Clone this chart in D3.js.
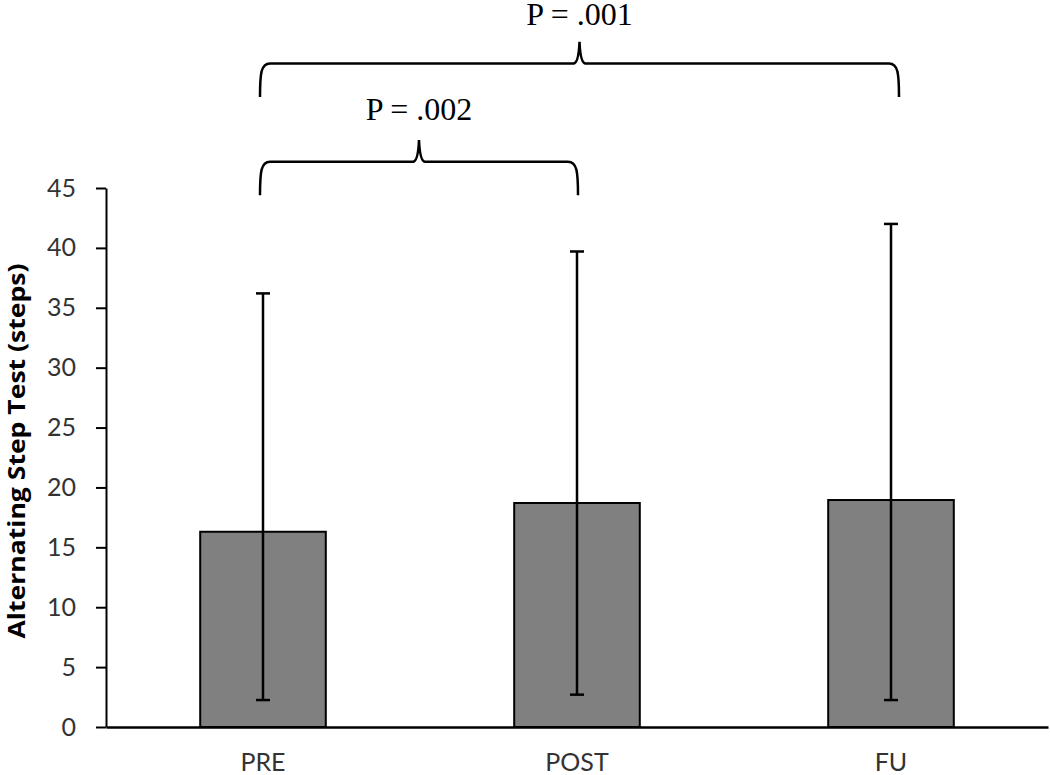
<!DOCTYPE html>
<html>
<head>
<meta charset="utf-8">
<script src="https://cdn.jsdelivr.net/npm/d3@7"></script>
<style>
  html, body { margin: 0; padding: 0; background: #fff; }
  svg { display: block; }
</style>
</head>
<body>
<svg id="chart"></svg>
<script>
// 交互踏み台テスト 棒グラフ（平均 ± 誤差）

const categories = ["PRE", "POST", "FU"];
const means = [16.3, 18.7, 18.95];
const errLow = [2.25, 2.7, 2.25];
const errHigh = [36.2, 39.7, 42.0];
const yTicks = [0, 5, 10, 15, 20, 25, 30, 35, 40, 45];

// 有意差ブラケット: [from, to, 下端, 水平線, 頂点, ラベル位置]
const bracketFrom = ["PRE", "PRE"];
const bracketTo = ["POST", "FU"];
const bracketLabels = ["P = .002", "P = .001"];
const bracketBottom = [44.4, 52.6];
const bracketLine = [47.2, 55.4];
const bracketPeak = [49.0, 57.2];
const bracketText = [50.7, 58.65];

const width = 1050;
const height = 775;

const svg = d3.select("#chart")
    .attr("width", width)
    .attr("height", height);

const x = d3.scaleBand()
    .domain(categories)
    .range([106, 1048])
    .paddingInner(0.6)
    .paddingOuter(0.3);

const y = d3.scaleLinear()
    .domain([0, 45])
    .range([727, 188]);

const cx = d => x(d) + x.bandwidth() / 2;

// 棒
svg.append("g")
    .selectAll("rect")
    .data(categories)
    .enter()
    .append("rect")
    .attr("x", d => x(d))
    .attr("y", (d, i) => y(means[i]))
    .attr("width", x.bandwidth())
    .attr("height", (d, i) => y(0) - y(means[i]))
    .attr("fill", "#808080")
    .attr("stroke", "#000")
    .attr("stroke-width", 2);

// 誤差棒
const err = svg.append("g")
    .attr("stroke", "#000")
    .attr("stroke-width", 2.5);

categories.forEach((c, i) => {
    err.append("line")
        .attr("x1", cx(c)).attr("x2", cx(c))
        .attr("y1", y(errLow[i])).attr("y2", y(errHigh[i]));
    [errLow[i], errHigh[i]].forEach(v => {
        err.append("line")
            .attr("x1", cx(c) - 7).attr("x2", cx(c) + 7)
            .attr("y1", y(v)).attr("y2", y(v));
    });
});

// Y軸
const yAxis = svg.append("g")
    .attr("transform", "translate(106,0)")
    .call(d3.axisLeft(y).tickValues(yTicks).tickSize(10).tickPadding(20).tickSizeOuter(0));
yAxis.select(".domain").attr("stroke", "#000").attr("stroke-width", 2);
yAxis.selectAll(".tick line").attr("stroke", "#000").attr("stroke-width", 2);
yAxis.selectAll(".tick text")
    .attr("fill", "#333")
    .style("font-family", "Lato, 'Open Sans', sans-serif")
    .style("font-size", "25px");

// X軸
const xAxis = svg.append("g")
    .attr("transform", "translate(0,727)")
    .call(d3.axisBottom(x).tickSize(0).tickPadding(0));
xAxis.select(".domain").attr("stroke", "#000").attr("stroke-width", 2.5);
xAxis.selectAll(".tick text")
    .attr("y", 44)
    .attr("dy", null)
    .attr("fill", "#333")
    .style("font-family", "Lato, 'Open Sans', sans-serif")
    .style("font-size", "25px");

// Y軸タイトル
svg.append("text")
    .attr("transform", "translate(25,451) rotate(-90)")
    .attr("text-anchor", "middle")
    .attr("textLength", 375)
    .attr("lengthAdjust", "spacingAndGlyphs")
    .style("font-family", "'Open Sans', Lato, sans-serif")
    .style("font-weight", "bold")
    .style("font-size", "24px")
    .attr("fill", "#000")
    .text("Alternating Step Test (steps)");

// ブラケット
bracketLabels.forEach((label, i) => {
    const x1 = cx(bracketFrom[i]) - 3;
    const x2 = cx(bracketTo[i]) + (bracketTo[i] === "FU" ? 8 : 1);
    const mid = (x1 + x2) / 2;
    const yb = y(bracketBottom[i]);
    const yl = y(bracketLine[i]);
    const yp = y(bracketPeak[i]);
    const p = d3.path();
    p.moveTo(x1, yb);
    p.bezierCurveTo(x1, yl + 10, x1 + 1, yl, x1 + 10, yl);
    p.lineTo(mid - 6, yl);
    p.quadraticCurveTo(mid - 1, yl, mid, yp);
    p.quadraticCurveTo(mid + 1, yl, mid + 6, yl);
    p.lineTo(x2 - 10, yl);
    p.bezierCurveTo(x2 - 1, yl, x2, yl + 10, x2, yb);
    svg.append("path")
        .attr("d", p.toString())
        .attr("fill", "none")
        .attr("stroke", "#000")
        .attr("stroke-width", 2.5);
    svg.append("text")
        .attr("x", mid)
        .attr("y", y(bracketText[i]))
        .attr("text-anchor", "middle")
        .style("font-family", "'Liberation Serif', 'Times New Roman', serif")
        .style("font-size", "32px")
        .attr("fill", "#000")
        .text(label);
});
</script>
</body>
</html>
